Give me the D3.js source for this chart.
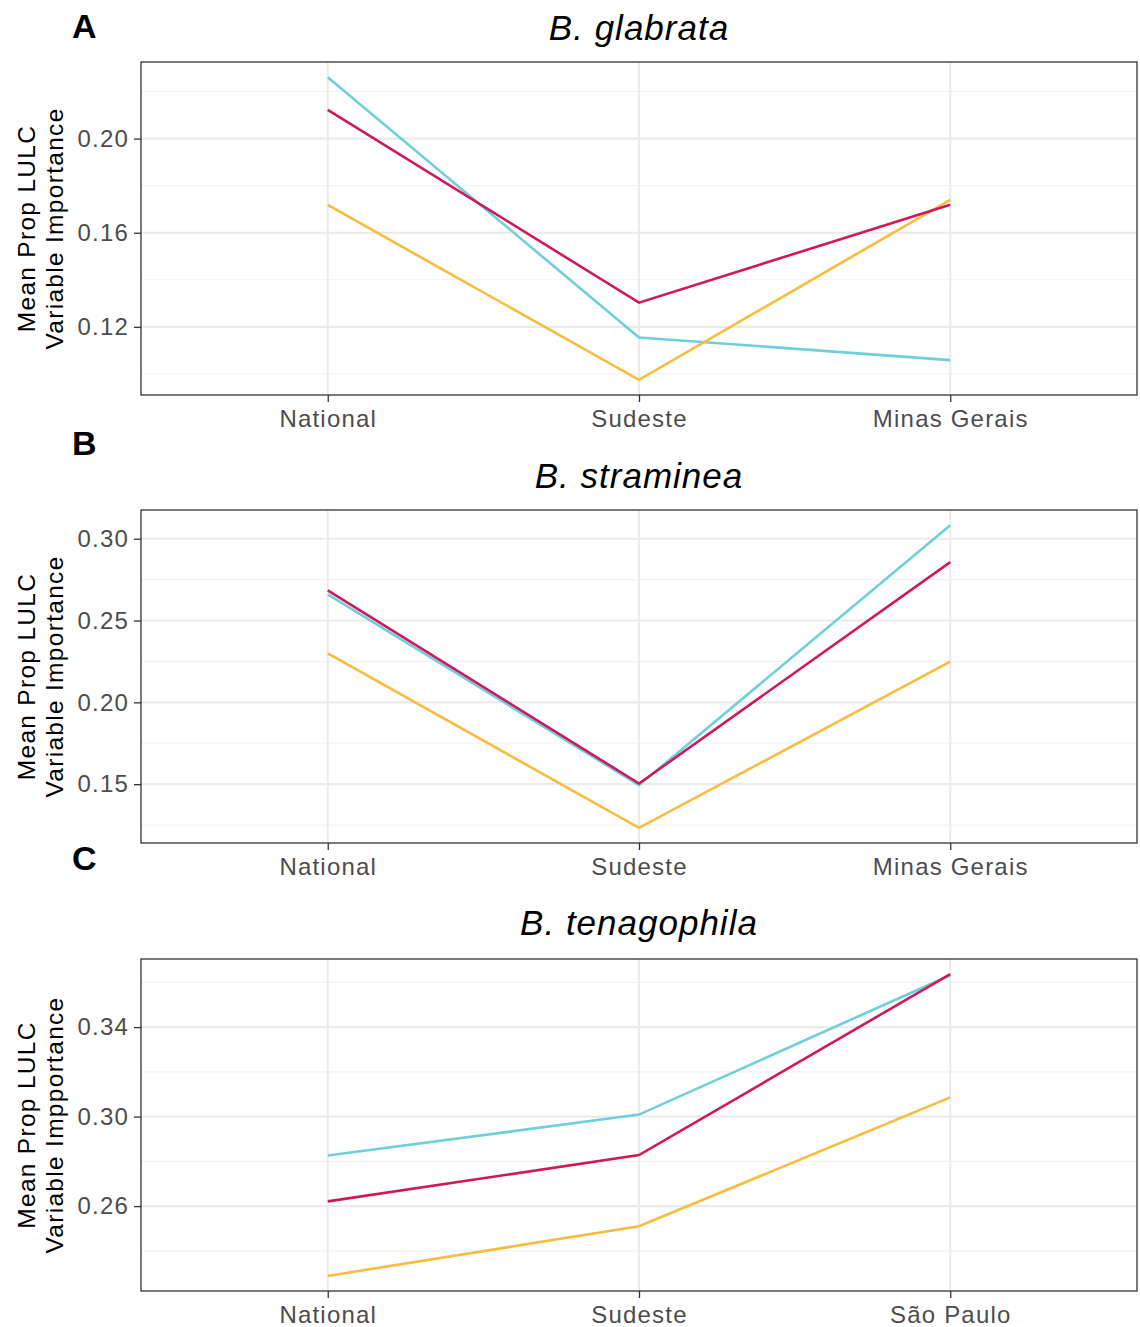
<!DOCTYPE html>
<html>
<head>
<meta charset="utf-8">
<script src="https://cdn.jsdelivr.net/npm/d3@7"></script>
<style>
  html, body { margin: 0; padding: 0; background: #fff; }
  svg { display: block; font-family: "Liberation Sans", Arial, sans-serif; }
</style>
</head>
<body>
<svg id="chart" width="1140" height="1327"></svg>
<script>
// ---------- data ----------
const panelLetters = ["A", "B", "C"];
const speciesTitles = ["B. glabrata", "B. straminea", "B. tenagophila"];
const yTitleLine1 = ["Mean Prop LULC", "Mean Prop LULC", "Mean Prop LULC"];
const yTitleLine2 = ["Variable Importance", "Variable Importance", "Variable Impportance"];

const regionsA = ["National", "Sudeste", "Minas Gerais"];
const regionsB = ["National", "Sudeste", "Minas Gerais"];
const regionsC = ["National", "Sudeste", "São Paulo"];

// series (coloured lines) per panel
const cyanA    = [0.2261, 0.1155, 0.1059];
const crimsonA = [0.2122, 0.1303, 0.1719];
const orangeA  = [0.1718, 0.0975, 0.1740];

const cyanB    = [0.2660, 0.1494, 0.3083];
const crimsonB = [0.2684, 0.1504, 0.2857];
const orangeB  = [0.2299, 0.1233, 0.2249];

const cyanC    = [0.2826, 0.3009, 0.3632];
const crimsonC = [0.2621, 0.2828, 0.3637];
const orangeC  = [0.2288, 0.2510, 0.3086];

const majorTicksA = [0.12, 0.16, 0.20];
const minorTicksA = [0.10, 0.14, 0.18, 0.22];
const majorTicksB = [0.15, 0.20, 0.25, 0.30];
const minorTicksB = [0.125, 0.175, 0.225, 0.275];
const majorTicksC = [0.26, 0.30, 0.34];
const minorTicksC = [0.24, 0.28, 0.32, 0.36];

const seriesColors = ["#6fcfdb", "#fbbb3f", "#d1185a"]; // cyan, orange, crimson

// ---------- layout ----------
const svg = d3.select("#chart");
const plotLeft = 141, plotRight = 1137;
const panelLayout = [
  { top: 62,  bottom: 395,  letterY: 38,  titleY: 40 },
  { top: 510, bottom: 843,  letterY: 455, titleY: 488 },
  { top: 959, bottom: 1291, letterY: 870, titleY: 935 }
];

const panelRegions = [regionsA, regionsB, regionsC];
const panelSeries = [
  [cyanA, orangeA, crimsonA],
  [cyanB, orangeB, crimsonB],
  [cyanC, orangeC, crimsonC]
];
const panelMajor = [majorTicksA, majorTicksB, majorTicksC];
const panelMinor = [minorTicksA, minorTicksB, minorTicksC];

panelLayout.forEach((L, i) => {
  const regions = panelRegions[i];
  const series = panelSeries[i];
  const all = series.flat();
  const lo = d3.min(all), hi = d3.max(all);
  const pad = (hi - lo) * 0.05;

  // discrete x with ggplot-like 0.6 expansion
  const x = d3.scalePoint().domain(regions)
    .range([plotLeft, plotRight]).padding(0.6);
  const y = d3.scaleLinear().domain([lo - pad, hi + pad])
    .range([L.bottom, L.top]);

  const g = svg.append("g");

  g.append("rect")
    .attr("x", plotLeft).attr("y", L.top)
    .attr("width", plotRight - plotLeft).attr("height", L.bottom - L.top)
    .attr("fill", "#fff");

  // minor grid
  g.selectAll(".minor").data(panelMinor[i].filter(v => y(v) > L.top && y(v) < L.bottom))
    .enter().append("line")
    .attr("x1", plotLeft).attr("x2", plotRight)
    .attr("y1", d => y(d)).attr("y2", d => y(d))
    .attr("stroke", "#f2f2f2").attr("stroke-width", 1.1);

  // major grid y
  g.selectAll(".majorY").data(panelMajor[i])
    .enter().append("line")
    .attr("x1", plotLeft).attr("x2", plotRight)
    .attr("y1", d => y(d)).attr("y2", d => y(d))
    .attr("stroke", "#ebebeb").attr("stroke-width", 2.1);

  // major grid x
  g.selectAll(".majorX").data(regions)
    .enter().append("line")
    .attr("x1", d => x(d)).attr("x2", d => x(d))
    .attr("y1", L.top).attr("y2", L.bottom)
    .attr("stroke", "#ebebeb").attr("stroke-width", 2.1);

  // lines
  const line = d3.line().x((d, k) => x(regions[k])).y(d => y(d));
  series.forEach((s, k) => {
    g.append("path").datum(s)
      .attr("d", line)
      .attr("fill", "none")
      .attr("stroke", seriesColors[k])
      .attr("stroke-width", 2.6);
  });

  // border
  g.append("rect")
    .attr("x", plotLeft).attr("y", L.top)
    .attr("width", plotRight - plotLeft).attr("height", L.bottom - L.top)
    .attr("fill", "none").attr("stroke", "#333").attr("stroke-width", 1.3);

  // y axis
  const yAxis = d3.axisLeft(y).tickValues(panelMajor[i])
    .tickFormat(d3.format(".2f")).tickSize(7).tickPadding(5);
  const ya = g.append("g").attr("transform", `translate(${plotLeft},0)`).call(yAxis);
  ya.select(".domain").remove();
  ya.selectAll("line").attr("stroke", "#333").attr("stroke-width", 1.3);
  ya.selectAll("text").attr("fill", "#4d4d4d").style("font-size", "24px")
    .style("letter-spacing", "1.2px")
    .style("font-family", "Liberation Sans, Arial, sans-serif");

  // x axis
  const xAxis = d3.axisBottom(x).tickSize(7).tickPadding(8);
  const xa = g.append("g").attr("transform", `translate(0,${L.bottom})`).call(xAxis);
  xa.select(".domain").remove();
  xa.selectAll("line").attr("stroke", "#333").attr("stroke-width", 1.3);
  xa.selectAll("text").attr("fill", "#4d4d4d").style("font-size", "24px")
    .style("letter-spacing", "1.2px")
    .style("font-family", "Liberation Sans, Arial, sans-serif");

  // y title (two lines)
  const midY = (L.top + L.bottom) / 2;
  g.append("text")
    .attr("transform", `translate(35,${midY}) rotate(-90)`)
    .attr("text-anchor", "middle")
    .style("font-size", "24.5px").style("letter-spacing", "1.3px").attr("fill", "#000")
    .text(yTitleLine1[i]);
  g.append("text")
    .attr("transform", `translate(63,${midY}) rotate(-90)`)
    .attr("text-anchor", "middle")
    .style("font-size", "24.5px").style("letter-spacing", "1.3px").attr("fill", "#000")
    .text(yTitleLine2[i]);

  // title
  g.append("text")
    .attr("x", (plotLeft + plotRight) / 2).attr("y", L.titleY)
    .attr("text-anchor", "middle")
    .style("font-size", "35px").style("font-style", "italic")
    .style("letter-spacing", "1px")
    .attr("fill", "#000")
    .text(speciesTitles[i]);

  // panel letter
  g.append("text")
    .attr("x", 72).attr("y", L.letterY)
    .style("font-size", "34px").style("font-weight", "bold")
    .attr("fill", "#000")
    .text(panelLetters[i]);
});
</script>
</body>
</html>
